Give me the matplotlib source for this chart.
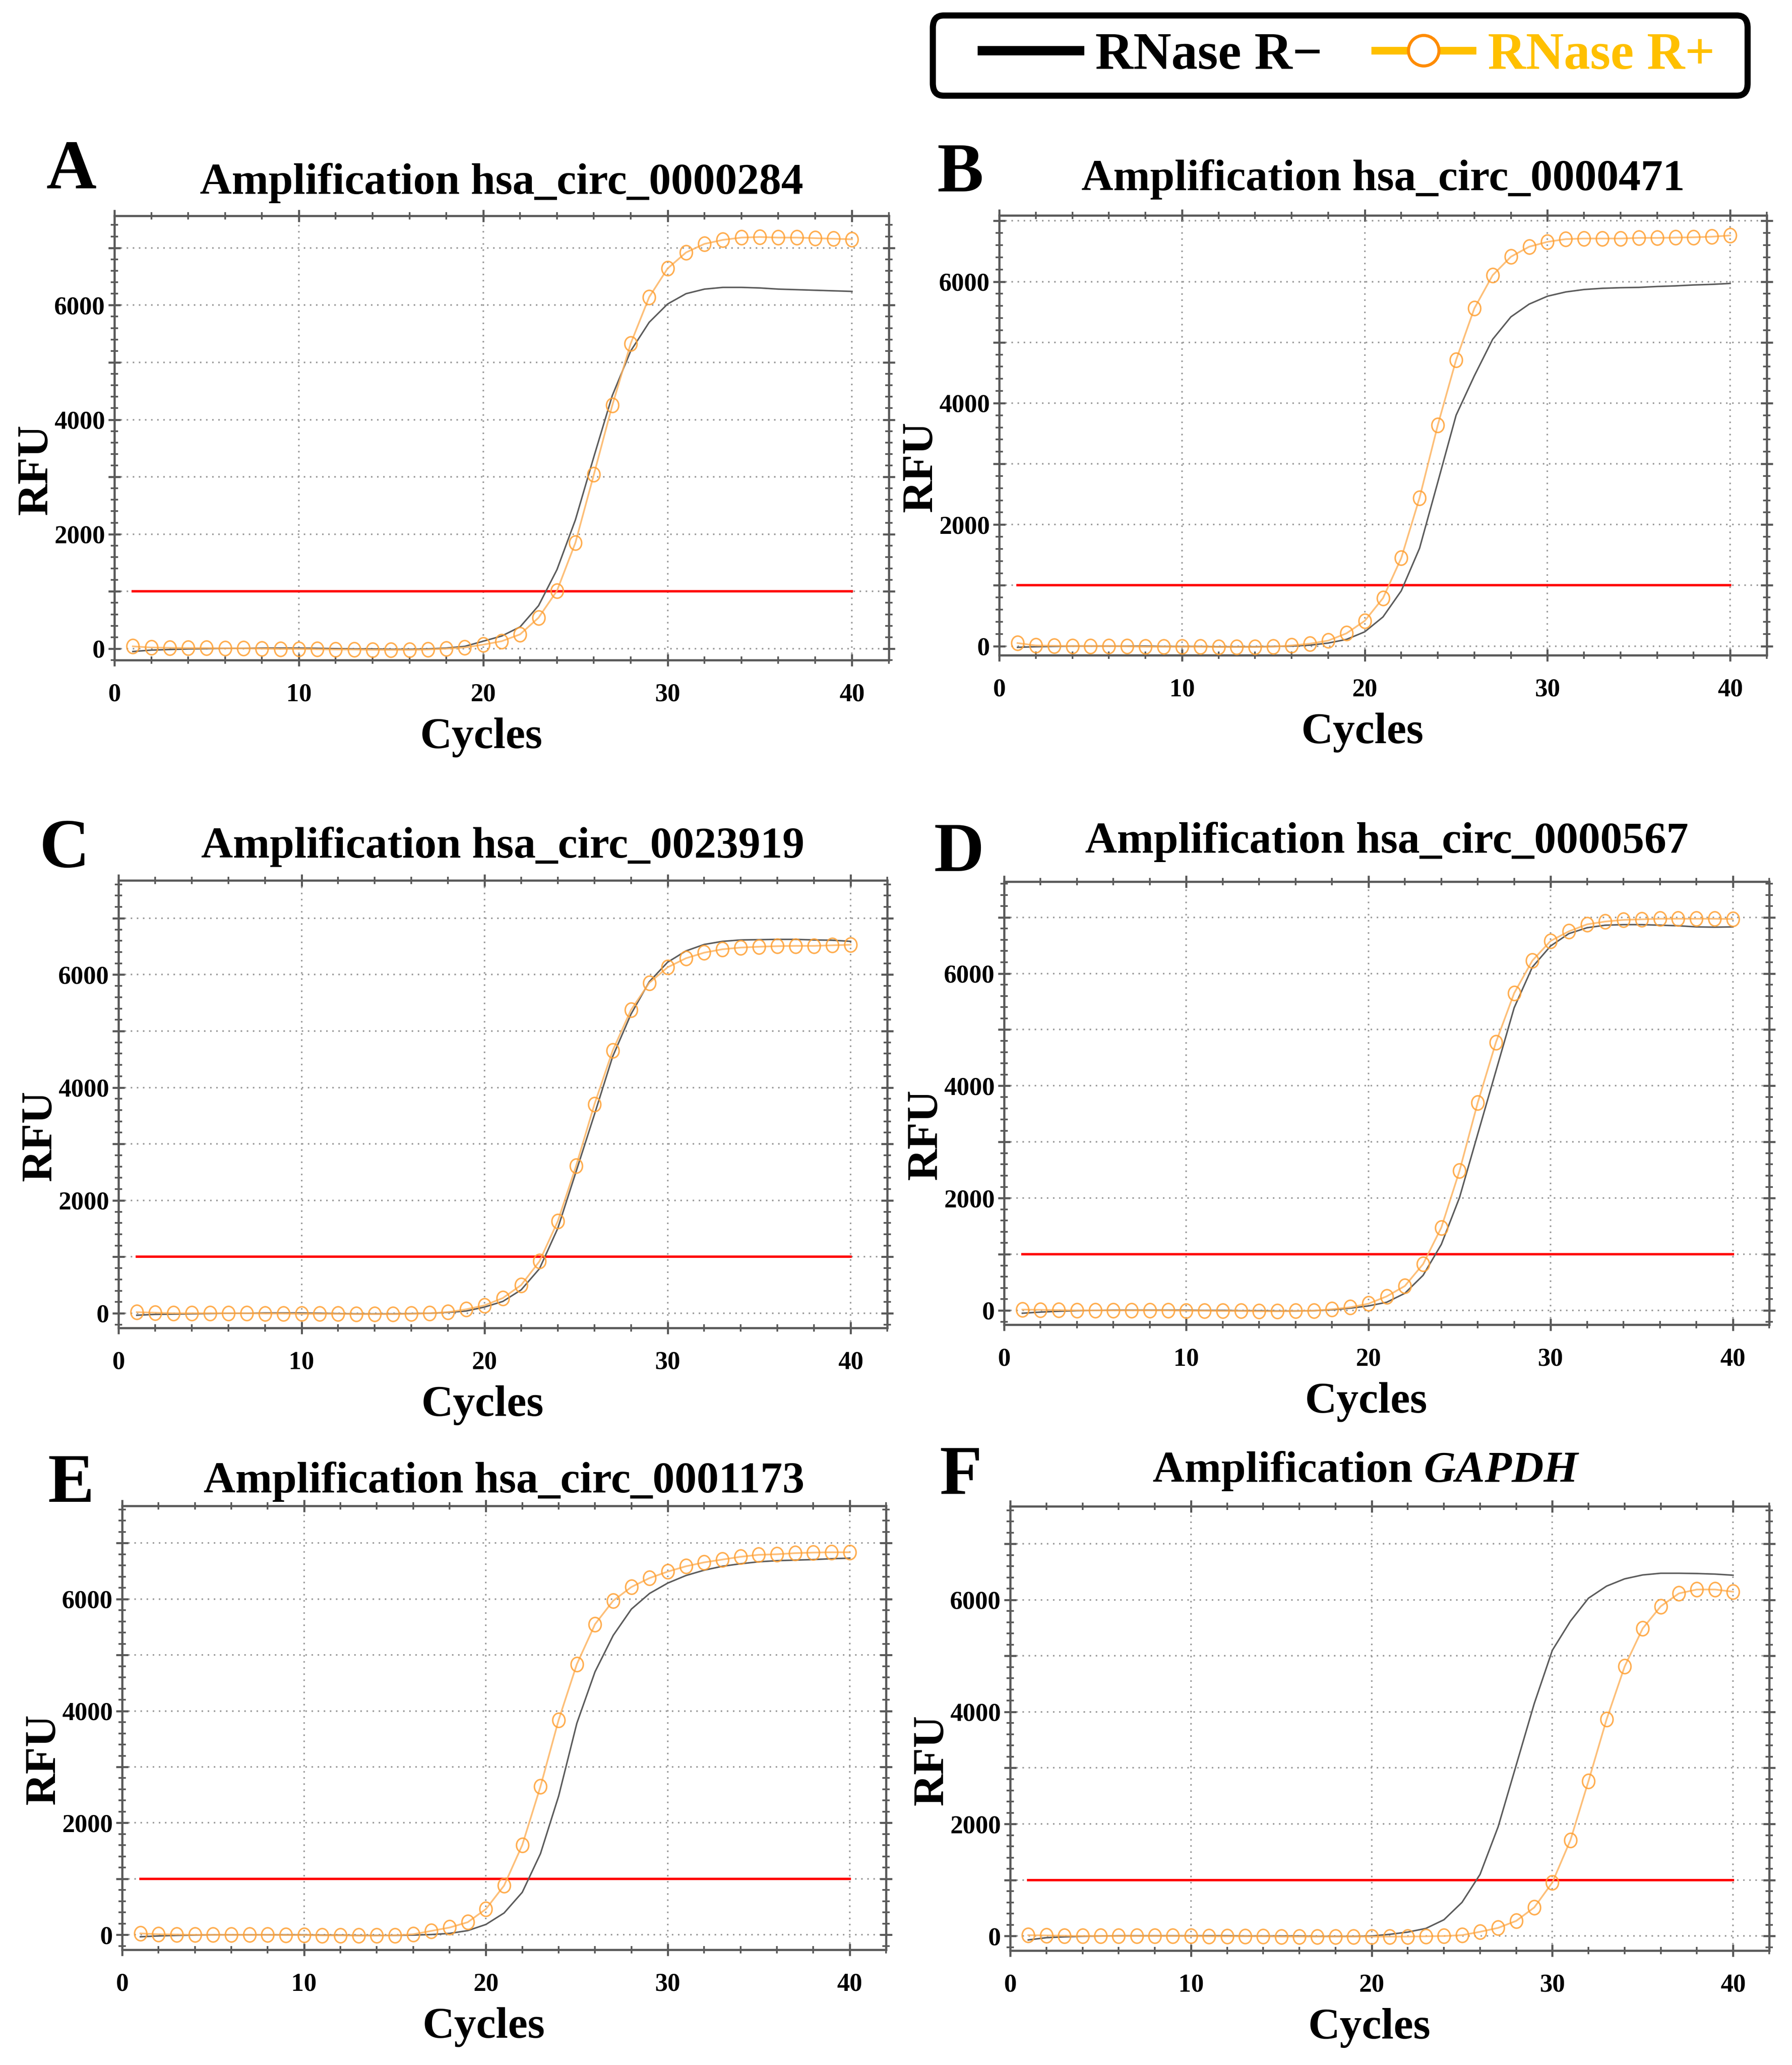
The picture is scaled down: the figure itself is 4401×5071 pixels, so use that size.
import numpy as np
import matplotlib
matplotlib.use('Agg')
import matplotlib.pyplot as plt
from matplotlib.lines import Line2D
from matplotlib.patches import FancyBboxPatch
from matplotlib.path import Path
from matplotlib.transforms import Affine2D
from matplotlib.ticker import MultipleLocator, FuncFormatter

# ---- data (RFU per cycle) ----
cycles = np.arange(1, 41)
threshold = 1000
panel_letters = ['A', 'B', 'C', 'D', 'E', 'F']
targets = ['hsa_circ_0000284', 'hsa_circ_0000471', 'hsa_circ_0023919',
           'hsa_circ_0000567', 'hsa_circ_0001173', 'GAPDH']

minus_a = [-50, -25, -15, -5, 0, 5, 5, 10, 10, 10, 5, 0, -5, -5, -10, -10, -5, 10, 40, 130,
           220, 380, 750, 1380, 2250, 3350, 4420, 5200, 5700, 6020,
           6200, 6280, 6310, 6310, 6300, 6280, 6270, 6260, 6250, 6240]
plus_a = [40, 20, 15, 10, 10, 5, 5, 0, -5, -5, -10, -15, -15, -20, -20, -20, -15, 0, 20, 70,
          130, 250, 540, 1010, 1850, 3040, 4250, 5330, 6140, 6640,
          6920, 7070, 7140, 7180, 7190, 7180, 7180, 7170, 7160, 7150]

minus_b = [-20, -10, -5, 0, 0, 0, 0, 0, -5, -5, -5, -10, -10, -10, -5, 0, 15, 50, 110, 235,
           480, 910, 1610, 2700, 3800, 4450, 5050, 5420, 5630, 5760,
           5830, 5870, 5890, 5900, 5905, 5920, 5930, 5945, 5955, 5970]
plus_b = [50, 10, 5, 0, 0, 0, -5, -10, -10, -10, -10, -15, -15, -15, -10, 10, 40, 90, 210, 415,
          790, 1450, 2440, 3640, 4710, 5560, 6105, 6410, 6575, 6655,
          6700, 6710, 6710, 6710, 6720, 6720, 6725, 6730, 6740, 6760]

minus_c = [-35, -20, -15, -10, -5, 0, 0, 5, 5, 5, 0, -5, -10, -10, -10, -5, 0, 15, 40, 110,
           210, 415, 790, 1505, 2510, 3520, 4550, 5300, 5875, 6220,
           6420, 6535, 6590, 6615, 6620, 6625, 6625, 6615, 6610, 6590]
plus_c = [20, 10, 0, 0, 0, 0, 0, -5, -5, -10, -10, -10, -15, -15, -15, -10, 0, 20, 70, 140,
          270, 500, 920, 1630, 2610, 3700, 4655, 5375, 5855, 6130,
          6290, 6390, 6450, 6480, 6495, 6505, 6510, 6510, 6520, 6530]

minus_d = [-50, -30, -15, -5, 0, 5, 5, 5, 5, 5, 0, 0, -5, -5, -10, -10, -5, 10, 40, 80,
           145, 305, 625, 1175, 2010, 3140, 4265, 5390, 6115, 6490,
           6710, 6815, 6860, 6870, 6870, 6860, 6850, 6830, 6825, 6830]
plus_d = [15, 10, 5, 0, 0, 0, 0, 0, 0, -5, -5, -10, -10, -15, -15, -10, -5, 20, 55, 120,
          250, 435, 825, 1475, 2485, 3700, 4775, 5650, 6230, 6580,
          6750, 6875, 6925, 6955, 6965, 6975, 6975, 6975, 6975, 6970]

minus_e = [-35, -20, -10, -5, 0, 0, 0, 0, 0, 0, -5, -5, -10, -10, -10, -5, 5, 25, 75, 185,
           390, 760, 1450, 2480, 3780, 4700, 5350, 5820, 6100, 6285,
           6420, 6515, 6585, 6630, 6665, 6685, 6695, 6705, 6720, 6730]
plus_e = [25, 10, 5, 0, 0, 0, 0, 0, -5, -5, -10, -10, -15, -15, -10, 10, 70, 130, 225, 460,
          880, 1605, 2650, 3840, 4835, 5550, 5970, 6215, 6375, 6490,
          6585, 6655, 6705, 6755, 6790, 6800, 6820, 6830, 6835, 6835]

minus_f = [-70, -30, -15, -5, 0, 5, 5, 5, 5, 5, 5, 5, 0, 0, 0, 0, -5, -5, -5, 0,
           30, 70, 135, 290, 600, 1100, 1950, 3050, 4150, 5100,
           5620, 6030, 6245, 6375, 6445, 6475, 6475, 6470, 6460, 6440]
plus_f = [15, 10, 5, 0, 0, 0, 0, 0, 0, 0, -5, -5, -5, -5, -10, -10, -10, -10, -10, -10,
          -10, -10, -5, 0, 15, 75, 145, 270, 510, 955,
          1710, 2765, 3865, 4810, 5490, 5885, 6115, 6185, 6185, 6145]

minus_runs = [minus_a, minus_b, minus_c, minus_d, minus_e, minus_f]
plus_runs = [plus_a, plus_b, plus_c, plus_d, plus_e, plus_f]
y_limits = [(-200, 7560), (-150, 7090), (-260, 7670), (-254, 7636), (-267, 7664), (-260, 7670)]

# ---- layout in pixels of the 4401 x 5071 output ----
W, H, DPI = 4401, 5071, 300
# axes boxes: left, top, right, bottom
boxes = [(281, 530, 2183, 1621), (2454, 529, 4339, 1609),
         (291, 2162, 2179, 3261), (2466, 2165, 4345, 3253),
         (300, 3698, 2176, 4788), (2481, 3699, 4345, 4790)]
title_base = [476, 467, 2106, 2094, 3665, 3639]
letter_pos = [(113, 463), (2301, 470), (97, 2129), (2294, 2139), (117, 3688), (2307, 3668)]
legend_box = (2291, 38, 4292, 235)

plt.rcParams['font.family'] = ['Liberation Serif', 'DejaVu Serif']
plt.rcParams['font.weight'] = 'bold'

ORANGE_LINE = '#FDB462'
ORANGE_EDGE = '#FFA033'
GRAY = '#5c5c5c'
SPINE = '#5a5a5a'

marker_shape = Path.unit_circle().transformed(Affine2D().scale(0.86, 1.0))

fig = plt.figure(figsize=(W / DPI, H / DPI), dpi=DPI)


def fx(x):
    return x / W


def fy(y):
    return 1 - y / H


for i in range(6):
    l, t, r, b = boxes[i]
    ax = fig.add_axes([fx(l), fy(b), (r - l) / W, (b - t) / H])

    ax.plot([cycles[0], cycles[-1]], [threshold, threshold], color='#FF0000', lw=1.4, zorder=2)
    ax.plot(cycles, minus_runs[i], color=GRAY, lw=0.9, zorder=3)
    ax.plot(cycles, plus_runs[i], color=ORANGE_LINE, lw=1.0, zorder=4,
            marker=marker_shape, markersize=8.4, markerfacecolor='none',
            markeredgecolor=ORANGE_EDGE, markeredgewidth=0.9, alpha=0.85)

    ax.set_xlim(0, 42)
    ax.set_ylim(*y_limits[i])
    ax.xaxis.set_major_locator(MultipleLocator(10))
    ax.xaxis.set_minor_locator(MultipleLocator(2))
    ax.yaxis.set_major_locator(MultipleLocator(1000))
    ax.yaxis.set_minor_locator(MultipleLocator(200))
    ax.yaxis.set_major_formatter(FuncFormatter(lambda v, p: f'{int(v)}' if v % 2000 == 0 else ''))

    ax.grid(which='major', linestyle=(0, (1, 3)), color='#999999', lw=0.9)
    ax.tick_params(which='both', direction='inout', top=True, right=True, color=SPINE, labelsize=15)
    ax.tick_params(which='major', length=7, width=1.2)
    ax.tick_params(which='minor', length=4.5, width=1.0)
    ax.tick_params(axis='x', which='major', pad=10)
    ax.tick_params(axis='y', which='major', pad=2)
    for s in ax.spines.values():
        s.set_color(SPINE)
        s.set_linewidth(1.3)

    cx = (l + r) / 2
    fig.text(fx(cx - 50), fy(b + 190), 'Cycles', ha='center', va='center', fontsize=26)
    fig.text(fx(l - 192), fy((t + b) / 2 + 78), 'RFU', ha='center', va='center',
             rotation=90, fontsize=26)
    fig.text(fx(letter_pos[i][0]), fy(letter_pos[i][1]), panel_letters[i],
             ha='left', va='baseline', fontsize=41)

    if targets[i] == 'GAPDH':
        renderer = fig.canvas.get_renderer()
        t1 = fig.text(0, fy(title_base[i]), 'Amplification ', ha='left', va='baseline', fontsize=26)
        t2 = fig.text(0, fy(title_base[i]), targets[i], ha='left', va='baseline',
                      fontsize=26, style='italic')
        w1 = t1.get_window_extent(renderer).width
        w2 = t2.get_window_extent(renderer).width
        x0 = cx - 60 - (w1 + w2) / 2
        t1.set_x(x0 / W)
        t2.set_x((x0 + w1) / W)
    else:
        fig.text(cx / W, fy(title_base[i]), 'Amplification ' + targets[i],
                 ha='center', va='baseline', fontsize=26)

# ---- shared legend with a rounded frame ----
bl, bt, br, bb = legend_box
frame = FancyBboxPatch((fx(bl), fy(bb)), (br - bl) / W, (bb - bt) / H,
                       boxstyle='round,pad=0,rounding_size=0.006',
                       transform=fig.transFigure, facecolor='white', edgecolor='black',
                       linewidth=3.6, zorder=5)
fig.patches.append(frame)

handles = [
    Line2D([], [], color='black', lw=5.5),
    Line2D([], [], color='#FFC000', lw=4.5, marker='o', markersize=18,
           markerfacecolor='white', markeredgecolor='#FF8C00', markeredgewidth=1.8),
]
labels = ['RNase R\u2212', 'RNase R+']
leg = fig.legend(handles, labels, loc='center', bbox_to_anchor=(fx(3312), fy(138)),
                 ncol=2, frameon=False, prop={'size': 31, 'weight': 'bold'},
                 handlelength=1.85, handletextpad=0.3, columnspacing=1.0,
                 borderpad=0, borderaxespad=0)
leg.set_zorder(6)
leg.get_texts()[0].set_color('black')
leg.get_texts()[1].set_color('#FFC000')

fig.savefig('out.png', dpi=DPI)
